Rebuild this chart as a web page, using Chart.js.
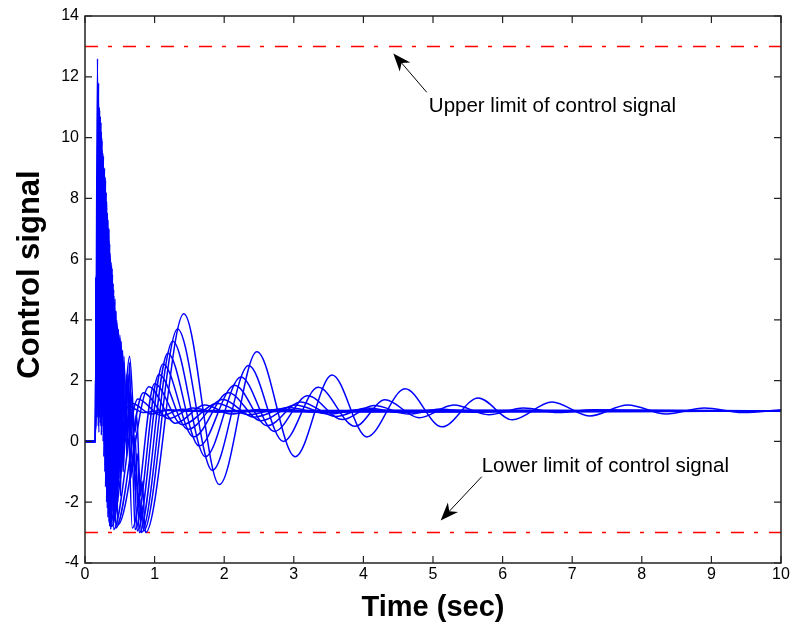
<!DOCTYPE html>
<html>
<head>
<meta charset="utf-8">
<script src="https://cdn.jsdelivr.net/npm/chart.js@4/dist/chart.umd.min.js"></script>
<style>
  html, body { margin: 0; padding: 0; background: #fff; }
  #wrap { width: 793px; height: 633px; }
</style>
</head>
<body>
<div id="wrap"><canvas id="myChart" width="793" height="633"></canvas></div>
<script>
// control signal curves, [time, value] (fastest first)
var curve01 = [[0,0],[0.15,0],[0.18,12.6],[0.2,1],[0.22,10.7],[0.245,0.5],[0.27,9.0],[0.295,-1.5],[0.32,7.5],[0.345,-2.6],[0.36,-2.7],[0.62,1.15],[0.85,0.95],[1.1,1.02],[10,1.0]];
var curve02 = [[0,0],[0.15,0],[0.19,11.5],[0.21,0.8],[0.235,10.2],[0.26,0],[0.285,8.6],[0.31,-2],[0.335,7.0],[0.36,-2.5],[0.38,-2.8],[0.68,1.25],[0.95,0.9],[1.2,1.04],[1.5,0.99],[10,1.0]];
var curve03 = [[0,0],[0.15,0],[0.2,9.8],[0.22,0.6],[0.245,9.6],[0.27,-0.5],[0.295,8.2],[0.32,-2.2],[0.345,6.6],[0.37,-1.5],[0.39,4.5],[0.41,-2.9],[0.76,1.4],[1.1,0.85],[1.4,1.06],[1.7,0.98],[10,1.01]];
var curve04 = [[0,0],[0.15,0],[0.165,5.5],[0.185,1],[0.21,10.9],[0.235,0.2],[0.26,9.3],[0.285,-1],[0.31,7.8],[0.335,-2.4],[0.36,6.2],[0.385,-2],[0.41,5],[0.44,-2.85],[0.84,1.6],[1.2,0.75],[1.55,1.1],[1.9,0.96],[2.3,1.02],[10,1.0]];
var curve05 = [[0,0],[0.15,0],[0.16,5.4],[0.175,0.8],[0.195,11.8],[0.215,1.2],[0.24,10.0],[0.265,0.3],[0.29,8.7],[0.315,-1.8],[0.34,6.8],[0.365,-2.6],[0.39,5.7],[0.415,-2.2],[0.44,4.2],[0.47,-2.75],[0.92,1.8],[1.3,0.6],[1.72,1.2],[2.1,0.9],[2.5,1.05],[3.0,0.98],[10,1.0]];
var curve06 = [[0,0],[0.15,0],[0.16,5.4],[0.18,1.5],[0.205,11.0],[0.23,0.5],[0.255,9.5],[0.28,0],[0.305,8.2],[0.33,-2.5],[0.355,6.5],[0.38,-2.7],[0.405,5.2],[0.43,-2.5],[0.455,4.0],[0.48,-1.5],[0.51,3.2],[0.55,-1],[0.6,2.0],[0.68,-2.85],[1.0,1.9],[1.4,0.55],[1.9,1.25],[2.35,0.88],[2.8,1.07],[3.3,0.97],[10,1.0]];
var curve07 = [[0,0],[0.15,0],[0.16,5.4],[0.17,2],[0.19,8],[0.21,1.5],[0.23,10.5],[0.255,0.8],[0.28,9.0],[0.305,-0.5],[0.33,7.3],[0.355,-2.8],[0.38,5.8],[0.405,-2.7],[0.43,4.7],[0.455,-2.2],[0.48,3.6],[0.51,-1.8],[0.54,3.0],[0.58,0],[0.62,2.2],[0.66,-1.2],[0.68,-0.6],[0.72,-2.9],[1.06,2.2],[1.48,0.4],[1.98,1.38],[2.43,0.8],[2.92,1.12],[3.4,0.94],[3.9,1.03],[10,1.0]];
var curve08 = [[0,0],[0.15,0],[0.16,5.4],[0.175,3],[0.2,9.5],[0.22,1],[0.245,9.9],[0.27,0.2],[0.295,8.6],[0.32,-1.2],[0.345,7.0],[0.37,-2.9],[0.395,5.5],[0.42,-2.6],[0.445,4.3],[0.47,-2.0],[0.5,3.4],[0.53,-1.0],[0.56,2.8],[0.6,-0.5],[0.64,2.6],[0.68,-1.0],[0.7,-0.3],[0.75,-2.95],[1.12,2.55],[1.56,0.15],[2.06,1.6],[2.53,0.68],[3.02,1.2],[3.5,0.9],[4.0,1.06],[4.5,0.97],[10,1.0]];
var curve09 = [[0,0],[0.15,0],[0.16,5.4],[0.185,2.5],[0.21,10.3],[0.235,0.5],[0.26,9.2],[0.285,0.2],[0.31,7.9],[0.335,-2],[0.36,6.1],[0.385,-2.8],[0.41,5.0],[0.435,-2.4],[0.46,3.9],[0.49,-1.2],[0.52,3.3],[0.56,-0.3],[0.6,2.2],[0.65,0.5],[0.69,1.2],[0.72,-1.6],[0.74,-1.0],[0.78,-3],[1.19,2.9],[1.64,-0.15],[2.15,1.85],[2.62,0.52],[3.1,1.3],[3.6,0.82],[4.05,1.1],[4.55,0.95],[5.0,1.03],[10,1.0]];
var curve10 = [[0,0],[0.15,0],[0.16,5.4],[0.19,0.5],[0.215,7.5],[0.24,1.5],[0.265,9.4],[0.29,-0.8],[0.315,7.4],[0.34,-1.5],[0.365,6.0],[0.39,-1.8],[0.415,4.8],[0.44,-2.7],[0.465,3.8],[0.5,-0.8],[0.53,3.0],[0.57,0.5],[0.62,2.0],[0.69,-0.8],[0.72,0.2],[0.76,-2.2],[0.78,-1.7],[0.81,-3],[1.26,3.3],[1.73,-0.5],[2.24,2.12],[2.72,0.33],[3.2,1.5],[3.7,0.72],[4.15,1.18],[4.65,0.9],[5.1,1.07],[5.6,0.96],[6.1,1.02],[10,1.0]];
var curve11 = [[0,0],[0.15,0],[0.16,5.4],[0.2,0.3],[0.225,6.5],[0.25,1.2],[0.275,8.9],[0.3,-1],[0.325,7.2],[0.35,-1.8],[0.375,5.9],[0.4,-2.3],[0.425,4.6],[0.45,-1.8],[0.48,3.7],[0.52,-0.5],[0.56,2.6],[0.6,0.2],[0.66,1.6],[0.72,-1.0],[0.75,-0.4],[0.8,-2.5],[0.82,-2.1],[0.84,-2.95],[1.33,3.7],[1.83,-0.95],[2.35,2.5],[2.85,0.0],[3.35,1.78],[3.88,0.5],[4.31,1.37],[4.8,0.78],[5.3,1.2],[5.8,0.88],[6.3,1.1],[6.8,0.95],[7.3,1.04],[10,1.0]];
var curve12 = [[0,0],[0.15,0],[0.16,5.4],[0.21,0.8],[0.25,5.5],[0.28,1.0],[0.31,7.7],[0.345,-0.5],[0.38,5.6],[0.41,-1.0],[0.44,4.3],[0.47,0.5],[0.5,3.5],[0.55,1.0],[0.64,2.8],[0.72,0.3],[0.74,0.9],[0.8,-1.8],[0.82,-1.3],[0.87,-3],[1.42,4.2],[1.93,-1.42],[2.47,2.95],[3.02,-0.5],[3.55,2.19],[4.05,0.15],[4.6,1.73],[5.13,0.48],[5.65,1.43],[6.14,0.71],[6.71,1.3],[7.25,0.84],[7.8,1.2],[8.35,0.9],[8.9,1.1],[9.45,0.95],[10,1.04]];
var curves = [curve01, curve02, curve03, curve04, curve05, curve06, curve07, curve08, curve09, curve10, curve11, curve12];

// limits of the control signal
var upperLimit = 13;
var lowerLimit = -3;
var limitTimes = [0, 10];

// axis ticks
var xTicks = [0, 1, 2, 3, 4, 5, 6, 7, 8, 9, 10];
var yTicks = [-4, -2, 0, 2, 4, 6, 8, 10, 12, 14];

// annotations (data units)
var noteText = ["Upper limit of control signal", "Lower limit of control signal"];
var noteAt = [[4.94, 10.83], [5.70, -0.99]];
var arrowFrom = [[4.91, 11.49], [5.70, -1.16]];
var arrowTo = [[4.43, 12.77], [5.11, -2.6]];

var toXY = function (p) { return { x: p[0], y: p[1] }; };

var datasets = curves.map(function (c) {
  return {
    data: c.map(toXY),
    borderColor: "#0000ff",
    borderWidth: 1.5,
    pointRadius: 0,
    cubicInterpolationMode: "monotone",
    fill: false
  };
});
[upperLimit, lowerLimit].forEach(function (v) {
  datasets.push({
    data: limitTimes.map(function (t) { return { x: t, y: v }; }),
    borderColor: "#ff0000",
    borderWidth: 1.5,
    borderDash: [13, 10, 4, 11],
    pointRadius: 0,
    fill: false
  });
});

var matlabBox = {
  id: "matlabBox",
  afterDatasetsDraw: function (chart) {
    var ctx = chart.ctx, a = chart.chartArea;
    var xs = chart.scales.x, ys = chart.scales.y;
    ctx.save();
    ctx.strokeStyle = "#222";
    ctx.lineWidth = 1.5;
    ctx.strokeRect(a.left, a.top, a.right - a.left, a.bottom - a.top);
    ctx.lineWidth = 1.2;
    ctx.beginPath();
    var len = 7;
    xTicks.forEach(function (t) {
      var px = xs.getPixelForValue(t);
      ctx.moveTo(px, a.bottom); ctx.lineTo(px, a.bottom - len);
      ctx.moveTo(px, a.top); ctx.lineTo(px, a.top + len);
    });
    yTicks.forEach(function (v) {
      var py = ys.getPixelForValue(v);
      ctx.moveTo(a.left, py); ctx.lineTo(a.left + len, py);
      ctx.moveTo(a.right, py); ctx.lineTo(a.right - len, py);
    });
    ctx.stroke();

    // y axis title, MATLAB puts it a little above the middle
    ctx.fillStyle = "#000";
    ctx.save();
    ctx.translate(30, (a.top + a.bottom) / 2 - 15);
    ctx.rotate(-Math.PI / 2);
    ctx.font = "bold 31px 'Liberation Sans', Arial, sans-serif";
    ctx.textAlign = "center";
    ctx.textBaseline = "middle";
    ctx.fillText("Control signal", 0, 0);
    ctx.restore();

    // notes with arrows
    ctx.strokeStyle = "#000";
    ctx.font = "20.5px 'Liberation Sans', Arial, sans-serif";
    ctx.textBaseline = "alphabetic";
    ctx.textAlign = "left";
    noteText.forEach(function (txt, i) {
      ctx.fillText(txt, xs.getPixelForValue(noteAt[i][0]), ys.getPixelForValue(noteAt[i][1]));
      var x0 = xs.getPixelForValue(arrowFrom[i][0]), y0 = ys.getPixelForValue(arrowFrom[i][1]);
      var x1 = xs.getPixelForValue(arrowTo[i][0]), y1 = ys.getPixelForValue(arrowTo[i][1]);
      var ang = Math.atan2(y1 - y0, x1 - x0);
      var hl = 18, hw = 7;
      var mx = x1 - Math.cos(ang) * hl * 0.7, my = y1 - Math.sin(ang) * hl * 0.7;
      ctx.lineWidth = 1;
      ctx.beginPath();
      ctx.moveTo(x0, y0);
      ctx.lineTo(mx, my);
      ctx.stroke();
      var bx = x1 - Math.cos(ang) * hl, by = y1 - Math.sin(ang) * hl;
      var nx = -Math.sin(ang), ny = Math.cos(ang);
      ctx.beginPath();
      ctx.moveTo(x1, y1);
      ctx.lineTo(bx + nx * hw, by + ny * hw);
      ctx.lineTo(mx, my);
      ctx.lineTo(bx - nx * hw, by - ny * hw);
      ctx.closePath();
      ctx.fill();
    });
    ctx.restore();
  }
};

Chart.defaults.font.family = "'Liberation Sans', Arial, sans-serif";
Chart.defaults.color = "#000";

new Chart("myChart", {
  type: "line",
  data: { datasets: datasets },
  options: {
    responsive: false,
    animation: false,
    events: [],
    layout: { padding: { top: 16, right: 12, left: 0, bottom: 0 } },
    plugins: { legend: { display: false }, tooltip: { enabled: false } },
    scales: {
      x: {
        type: "linear",
        min: 0, max: 10,
        afterBuildTicks: function (s) { s.ticks = xTicks.map(function (v) { return { value: v }; }); },
        ticks: { padding: 2, font: { size: 16 }, color: "#000", maxRotation: 0, autoSkip: false },
        grid: { display: false, drawTicks: false },
        border: { display: false },
        title: { display: true, text: "Time (sec)", font: { size: 29, weight: "bold" }, color: "#000", padding: { top: 0, bottom: 8 } },
        afterFit: function (s) { s.height = 70; }
      },
      y: {
        type: "linear",
        min: -4, max: 14,
        afterBuildTicks: function (s) { s.ticks = yTicks.map(function (v) { return { value: v }; }); },
        ticks: { padding: 6, font: { size: 16 }, color: "#000", autoSkip: false },
        grid: { display: false, drawTicks: false },
        border: { display: false },
        afterFit: function (s) { s.width = 85; }
      }
    }
  },
  plugins: [matlabBox]
});
</script>
</body>
</html>
